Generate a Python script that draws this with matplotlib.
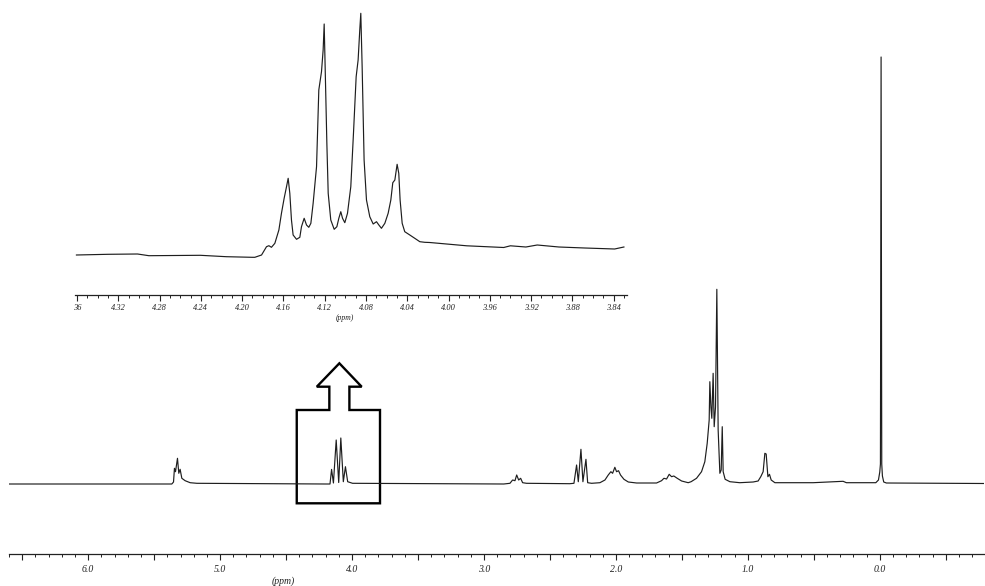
import matplotlib
matplotlib.use("Agg")
import matplotlib.pyplot as plt
from matplotlib.ticker import MultipleLocator, FuncFormatter
from matplotlib.patches import Polygon

# ---------------- data: full 1H NMR spectrum (ppm, intensity) ----------------
main_ppm = [6.60, 5.40, 5.366, 5.353, 5.346, 5.338, 5.323, 5.313, 5.303, 5.290, 5.265, 5.227, 5.176, 4.20,
            4.167, 4.155, 4.141, 4.120, 4.101, 4.085, 4.066, 4.050, 4.033, 3.996,
            2.85, 2.803, 2.783, 2.765, 2.752, 2.737, 2.722, 2.707, 2.677,
            2.35, 2.318, 2.298, 2.285, 2.265, 2.250, 2.227, 2.214, 2.184,
            2.121, 2.083, 2.058, 2.038, 2.025, 2.008, 1.995, 1.980, 1.965, 1.939, 1.906, 1.843,
            1.692, 1.654, 1.636, 1.616, 1.596, 1.578, 1.561, 1.535, 1.502, 1.452,
            1.430, 1.389, 1.351, 1.326, 1.308, 1.293, 1.288, 1.280, 1.273, 1.263, 1.255, 1.245,
            1.235, 1.225, 1.212, 1.202, 1.194, 1.187, 1.172, 1.136, 1.061,
            0.960, 0.922, 0.902, 0.884, 0.871, 0.861, 0.848, 0.836, 0.823, 0.795,
            0.505, 0.278, 0.253,
            0.030, 0.010, 0.000, -0.005, -0.010, -0.015, -0.020, -0.030, -0.050, -0.79]
main_int = [0, 0, 0, 2, 15.7, 12.3, 25.7, 10.7, 14.7, 5.7, 3.3, 1.3, 0.7, 0,
            0, 14.6, 1, 44, 1.5, 46, 2.3, 17.3, 2.3, 0.7,
            0, 0.7, 4, 3.3, 9, 4, 5.7, 1.3, 0.7,
            0.3, 0.7, 19, 2.3, 34.7, 2.3, 24.7, 1.3, 0.7,
            1.3, 4, 9, 12.3, 10.7, 16.7, 12.3, 13.3, 9, 4.7, 2, 1,
            1, 3.3, 5.7, 5, 9.7, 7.3, 8, 5.7, 3, 1.3,
            2.3, 5.7, 12.3, 22.3, 40.7, 64, 102.3, 77, 65.7, 110.7, 57.3, 77,
            194.7, 54, 10.7, 14, 57.3, 12.3, 4.7, 2.3, 1.3,
            2, 3, 7.3, 12.3, 30.7, 30, 7.3, 9.7, 4, 1.3,
            1.3, 2.7, 1.3,
            1.3, 4, 12, 20, 427, 20, 8, 2, 1, 0.5]

# ---------------- data: expanded region 4.36 - 3.83 ppm ----------------
inset_ppm = [4.3606, 4.330, 4.3014, 4.2904, 4.2405, 4.2153, 4.1903,
             4.1877, 4.1812, 4.1764, 4.1741, 4.1716, 4.1683, 4.1644, 4.1619, 4.1593, 4.1570,
             4.1554, 4.1538, 4.1522, 4.1506, 4.1473, 4.1441, 4.1425, 4.1399, 4.1376, 4.1354,
             4.1334, 4.1312, 4.1279, 4.1257, 4.1231, 4.1215, 4.1205, 4.1192, 4.1179, 4.1166,
             4.1141, 4.1108, 4.1082, 4.1063, 4.1044, 4.1027, 4.1005, 4.0979, 4.0947, 4.0921,
             4.0895, 4.0876, 4.0860, 4.0850, 4.0837, 4.0818, 4.0795, 4.0763, 4.0730, 4.0698,
             4.0675, 4.0650, 4.0617, 4.0585, 4.0559, 4.0540, 4.0520, 4.0498, 4.0482, 4.0469,
             4.0449, 4.0424, 4.0375, 4.0327, 4.0278, 4.0230,
             4.0182, 3.9823, 3.9465, 3.940, 3.925, 3.914, 3.893, 3.868, 3.839, 3.830]
inset_int = [0, 0.7, 1, -0.7, -0.3, -1.7, -2.3,
             -2.3, 0, 8.3, 9.3, 7.7, 11.7, 25, 41.7, 56.7, 68.3,
             76.7, 61.7, 35, 20, 15.7, 17.7, 28.3, 36.7, 30, 27.7,
             31.7, 51.7, 88.3, 165, 183.3, 205, 231, 171.7, 111.7, 61.7,
             35, 25.7, 28.3, 36.7, 43.3, 36.7, 32.3, 41.7, 68.3, 121.7,
             178.3, 195, 225, 241.7, 188.3, 95, 55, 38.3, 31, 33.3,
             30, 26.7, 31.7, 41.7, 55, 72.3, 75, 90.7, 81.7, 55,
             31.7, 23.3, 20, 16.7, 13.3, 12.7,
             12.5, 9.2, 7.5, 9.2, 8, 10, 8, 7, 6, 8]

main_major_labels = [6.0, 5.0, 4.0, 3.0, 2.0, 1.0, 0.0]
inset_ticks = [4.36, 4.32, 4.28, 4.24, 4.20, 4.16, 4.12, 4.08, 4.04, 4.00, 3.96, 3.92, 3.88, 3.84]
inset_tick_labels = ["36", "4.32", "4.28", "4.24", "4.20", "4.16", "4.12", "4.08",
                     "4.04", "4.00", "3.96", "3.92", "3.88", "3.84"]
axis_label = "(ppm)"

# ---------------- figure ----------------
W, H = 985, 586
fig = plt.figure(figsize=(W / 100, H / 100), dpi=100)
fig.patch.set_facecolor("white")

serif_family = ["Liberation Serif", "DejaVu Serif"]
line_col = "#1e1e1e"
text_col = "#222222"


def px_axes(left, right, top, bottom):
    return fig.add_axes([left / W, (H - bottom) / H, (right - left) / W, (bottom - top) / H])


def style_axis(ax):
    for s in ("top", "left", "right"):
        ax.spines[s].set_visible(False)
    ax.spines["bottom"].set_linewidth(0.9)
    ax.spines["bottom"].set_color("#222222")
    ax.set_yticks([])
    ax.patch.set_alpha(0)


# main spectrum
ax = px_axes(9, 984, 50, 554)
ax.plot(main_ppm, main_int, color=line_col, lw=0.85)
ax.set_xlim(6.6, -0.79)
ax.set_ylim(-70, 434)
style_axis(ax)
ax.xaxis.set_major_locator(MultipleLocator(0.5))
ax.xaxis.set_minor_locator(MultipleLocator(0.1))
ax.xaxis.set_major_formatter(FuncFormatter(
    lambda v, p: f"{v:.1f}" if any(abs(v - m) < 1e-6 for m in main_major_labels) else ""))
ax.tick_params(axis="x", which="major", length=4.5, width=0.8, pad=3.5, color="#222222",
               labelcolor=text_col)
ax.tick_params(axis="x", which="minor", length=2.5, width=0.7, color="#222222")
for t in ax.get_xticklabels():
    t.set_fontfamily(serif_family)
    t.set_fontstyle("italic")
    t.set_fontsize(7)
ax.text(0.281, -0.054, axis_label, transform=ax.transAxes, ha="center", va="center",
        fontsize=7, family=serif_family, style="italic", color=text_col)

# box + arrow marking the expanded region
box_left, box_right = 4.419, 3.788
stem_left, stem_right = 4.172, 4.020
wing_left, wing_right, tip = 4.267, 3.927, 4.096
y_bot, y_top, y_stem, y_tip = -19.3, 74, 97.3, 120.7
outline = [(box_left, y_bot), (box_right, y_bot), (box_right, y_top), (stem_right, y_top),
           (stem_right, y_stem), (wing_right, y_stem), (tip, y_tip), (wing_left, y_stem),
           (stem_left, y_stem), (stem_left, y_top), (box_left, y_top)]
ax.add_patch(Polygon(outline, closed=True, fill=False, edgecolor="black", lw=1.7,
                     joinstyle="miter"))

# inset (expanded multiplet)
ax2 = px_axes(75, 627, 10, 295)
ax2.plot(inset_ppm, inset_int, color=line_col, lw=0.85)
ax2.set_xlim(4.362, 3.827)
ax2.set_ylim(-40, 245)
style_axis(ax2)
ax2.set_xticks(inset_ticks)
ax2.set_xticklabels(inset_tick_labels)
ax2.xaxis.set_minor_locator(MultipleLocator(0.01))
ax2.tick_params(axis="x", which="major", length=4, width=0.8, pad=2.5, color="#222222",
                labelcolor=text_col)
ax2.tick_params(axis="x", which="minor", length=2.5, width=0.7, color="#222222")
for t in ax2.get_xticklabels():
    t.set_fontfamily(serif_family)
    t.set_fontstyle("italic")
    t.set_fontsize(6)
ax2.text(0.489, -0.081, axis_label, transform=ax2.transAxes, ha="center", va="center",
         fontsize=5.5, family=serif_family, style="italic", color=text_col)

fig.savefig("out.png", dpi=100, facecolor="white")
